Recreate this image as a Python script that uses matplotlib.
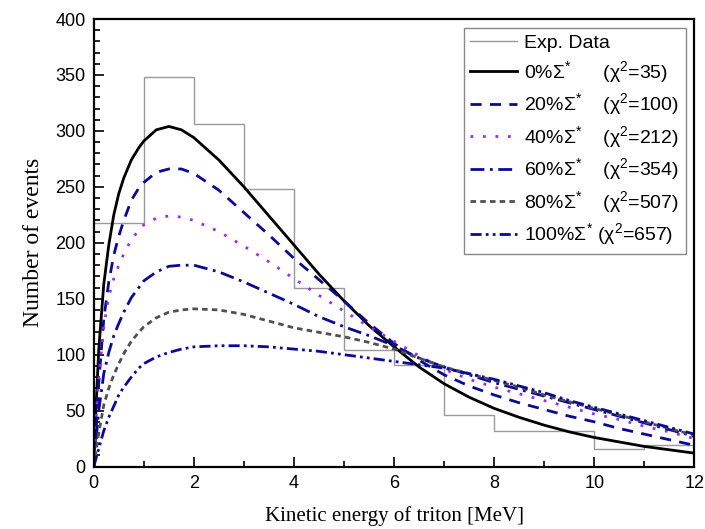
import numpy as np
import matplotlib
matplotlib.use('Agg')
import matplotlib.pyplot as plt
from matplotlib.ticker import MultipleLocator

plt.rcParams['font.family'] = ['Liberation Sans', 'DejaVu Sans']
plt.rcParams['mathtext.fontset'] = 'custom'
plt.rcParams['mathtext.rm'] = 'Liberation Sans'
plt.rcParams['mathtext.it'] = 'Liberation Sans:italic'

# experimental histogram (1 MeV bins)
bin_edges = np.arange(0, 13, 1)
exp_counts = [218, 348, 306, 248, 160, 104, 91, 46, 31.5, 31.5, 16, 19]

# curve sample points
energy = [0, 0.05, 0.1, 0.2, 0.3, 0.4, 0.5, 0.6, 0.75, 0.9, 1.0, 1.25, 1.5,
          1.75, 2.0, 2.5, 3.0, 3.5, 4.0, 4.5, 5.0, 5.5, 6.0, 6.5, 7.0, 7.5,
          8.0, 8.5, 9.0, 9.5, 10, 10.5, 11, 11.5, 12]
sig0 = [0, 58, 105, 163, 198, 225, 244, 258, 274, 285, 291, 301, 304,
        301, 294, 274, 250, 224, 198, 172, 148, 126, 107, 89, 74, 62,
        52, 44, 37, 31, 26, 22, 18, 15, 12]
sig20 = [0, 35, 75, 132, 165, 189, 206, 220, 238, 249, 254, 263, 266,
         266, 262, 247, 227, 207, 186, 167, 148, 128, 110, 95, 82, 72,
         64, 57, 51, 45, 40, 34, 29, 24, 19]
sig40 = [0, 45, 80, 125, 152, 168, 180, 190, 203, 211, 216, 222, 224,
         223, 220, 210, 197, 183, 168, 153, 139, 125, 112, 99, 87, 78,
         71, 65, 59, 53, 47, 42, 36, 31, 25]
sig60 = [0, 25, 50, 83, 102, 117, 128, 138, 151, 160, 166, 174, 179,
         180, 180, 174, 165, 155, 145, 134, 125, 117, 108, 97, 89, 82,
         75, 69, 63, 57, 51, 45, 39, 33, 27]
sig80 = [0, 15, 30, 55, 70, 82, 92, 101, 112, 120, 125, 133, 138,
         140, 141, 140, 136, 130, 124, 120, 116, 111, 105, 97, 89, 83,
         77, 71, 64, 58, 52, 46, 40, 34, 28]
sig100 = [0, 8, 16, 32, 44, 54, 64, 71, 80, 88, 92, 98, 102,
          105, 107, 108, 108, 107, 105, 103, 100, 97, 94, 91, 88, 83,
          78, 72, 66, 59, 53, 47, 41, 35, 29]

labels = [r'0%Σ${}^{*}$      (χ${}^{2}$=35)',
          r'20%Σ${}^{*}$    (χ${}^{2}$=100)',
          r'40%Σ${}^{*}$    (χ${}^{2}$=212)',
          r'60%Σ${}^{*}$    (χ${}^{2}$=354)',
          r'80%Σ${}^{*}$    (χ${}^{2}$=507)',
          r'100%Σ${}^{*}$ (χ${}^{2}$=657)']

fig = plt.figure(figsize=(7.05, 5.29), dpi=100)
ax = fig.add_axes([0.133, 0.118, 0.852, 0.846])

ax.stairs(exp_counts, bin_edges, baseline=None, color='#999999', lw=1.0,
          label='Exp. Data')
ax.plot(energy, sig0, color='black', lw=2.0, label=labels[0])
ax.plot(energy, sig20, color='#0a0a96', lw=2.0, ls=(0, (4, 3)), label=labels[1])
ax.plot(energy, sig40, color='#9a2cf0', lw=2.0, ls=(0, (1, 3.5)), label=labels[2])
ax.plot(energy, sig60, color='#0a0a96', lw=2.0, ls=(0, (5, 2, 1, 2)), label=labels[3])
ax.plot(energy, sig80, color='#505050', lw=2.0, ls=(0, (2, 1.5)), label=labels[4])
ax.plot(energy, sig100, color='#0a0a96', lw=2.0,
        ls=(0, (4, 1.5, 1, 1.5, 1, 1.5)), label=labels[5])

ax.set_xlim(0, 12)
ax.set_ylim(0, 400)
ax.xaxis.set_major_locator(MultipleLocator(2))
ax.xaxis.set_minor_locator(MultipleLocator(1))
ax.yaxis.set_major_locator(MultipleLocator(50))
ax.yaxis.set_minor_locator(MultipleLocator(10))
ax.tick_params(which='both', direction='in', labelsize=13, width=1.2)
ax.tick_params(which='major', length=7, pad=6)
ax.tick_params(which='minor', length=4)
for sp in ax.spines.values():
    sp.set_linewidth(1.6)

ax.set_xlabel('Kinetic energy of triton [MeV]', family='Liberation Serif',
              fontsize=15, labelpad=10)
ax.set_ylabel('Number of events', family='Liberation Serif', fontsize=17,
              labelpad=8)

leg = ax.legend(loc='upper right', fontsize=14, handlelength=2.4,
                handletextpad=0.35, labelspacing=0.34, borderaxespad=0.45,
                borderpad=0.35, fancybox=False, edgecolor='#888888',
                framealpha=1)
leg.get_frame().set_linewidth(1.0)

fig.savefig('out.png', dpi=100)
